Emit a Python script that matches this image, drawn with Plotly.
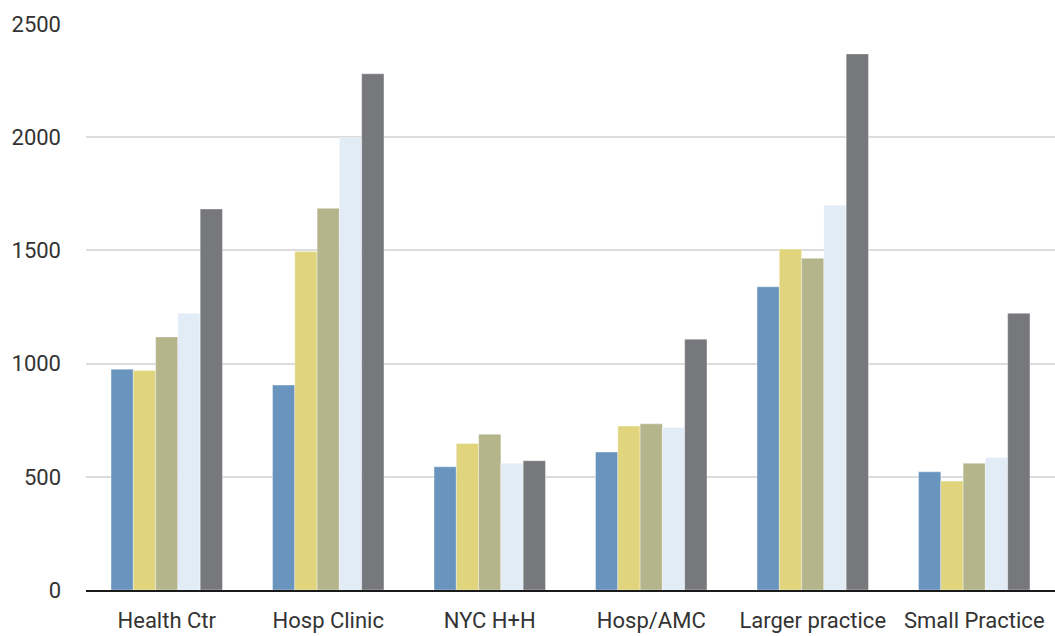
import plotly.graph_objects as go

categories = ["Health Ctr", "Hosp Clinic", "NYC H+H", "Hosp/AMC", "Larger practice", "Small Practice"]

series_names = ["Series 1", "Series 2", "Series 3", "Series 4", "Series 5"]
series_1 = [975, 905, 544, 609, 1339, 522]
series_2 = [970, 1495, 647, 724, 1506, 481]
series_3 = [1118, 1686, 688, 734, 1465, 560]
series_4 = [1222, 1998, 560, 718, 1699, 585]
series_5 = [1683, 2280, 571, 1108, 2368, 1222]

colors = ["#6894bd", "#e0d47c", "#b5b58c", "#e2ecf7", "#77787c"]
tick_vals = [0, 500, 1000, 1500, 2000, 2500]

fig = go.Figure()
for name, vals, col in zip(series_names, [series_1, series_2, series_3, series_4, series_5], colors):
    fig.add_trace(go.Bar(
        x=categories, y=vals, name=name,
        marker=dict(color=col, line=dict(width=0.6, color="rgba(255,255,255,0.6)")),
    ))

font_family = "Roboto, sans-serif"

fig.update_layout(
    barmode="group",
    bargap=0.31,
    bargroupgap=0,
    width=1055, height=636,
    margin=dict(l=86, r=0, t=24, b=46),
    plot_bgcolor="white", paper_bgcolor="white",
    showlegend=False,
    font=dict(family=font_family, size=22, color="#333333"),
    xaxis=dict(
        showline=True, linecolor="#1a1a1a", linewidth=2,
        ticks="", showgrid=False,
        tickfont=dict(size=22, color="#333333"),
        ticklabelstandoff=10,
    ),
    yaxis=dict(
        range=[0, 2500], tickvals=tick_vals,
        showgrid=True, gridcolor="#dcdcdc", gridwidth=1.5,
        zeroline=False, showline=False, ticks="",
        tickfont=dict(size=22, color="#333333"),
        ticklabelstandoff=24,
    ),
)

fig.write_html("out.html")
